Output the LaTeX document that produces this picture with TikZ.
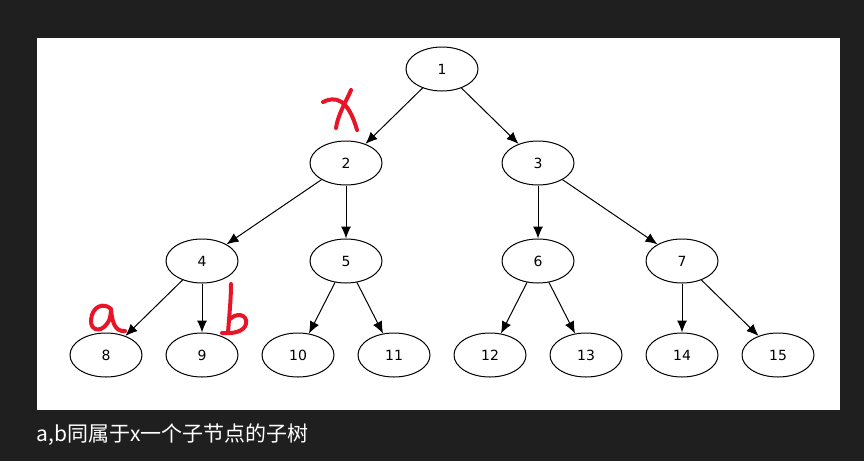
\documentclass[tikz,border=0pt]{standalone}
\usepackage{fontspec}
\setmainfont{DejaVu Sans}
\newfontfamily\cjk{Noto Sans CJK SC}
\usetikzlibrary{arrows.meta,shapes.geometric}
\definecolor{handred}{RGB}{232,20,40}
\begin{document}
\begin{tikzpicture}[x=1pt,y=-1pt,
  tn/.style={draw,ellipse,minimum width=72pt,minimum height=44pt,inner sep=0pt,font=\fontsize{14}{16}\selectfont,line width=1pt},
  ar/.style={-{Latex[length=12pt,width=10pt]},line width=1pt},
  hand/.style={handred,line width=4pt,line cap=round,line join=round}]
\fill[black!88] (0,0) rectangle (864,461);
\useasboundingbox (0,0) rectangle (864,461);
\fill[white] (37,38) rectangle (840,410);
\node[tn] (n1) at (442,69) {1};
\node[tn] (n2) at (346,163) {2};
\node[tn] (n3) at (538,163) {3};
\node[tn] (n4) at (202,261) {4};
\node[tn] (n5) at (346,261) {5};
\node[tn] (n6) at (538,261) {6};
\node[tn] (n7) at (682,261) {7};
\node[tn] (n8) at (106,355) {8};
\node[tn] (n9) at (202,355) {9};
\node[tn] (n10) at (298,355) {10};
\node[tn] (n11) at (394,355) {11};
\node[tn] (n12) at (490,355) {12};
\node[tn] (n13) at (586,355) {13};
\node[tn] (n14) at (682,355) {14};
\node[tn] (n15) at (778,355) {15};
\foreach \a/\b in {1/2,1/3,2/4,2/5,3/6,3/7,4/8,4/9,5/10,5/11,6/12,6/13,7/14,7/15}
  \draw[ar] (n\a) -- (n\b);
\draw[hand] (351,90) .. controls (346,102) and (338,114) .. (336,128);
\draw[hand] (323,102) .. controls (335,96) and (348,98) .. (357,130);
\draw[hand] (111,309) .. controls (104,302) and (92,306) .. (91,320)
  .. controls (90,332) and (104,334) .. (110,318) .. controls (111,312) and (111,310) .. (111,309)
  .. controls (112,320) and (114,332) .. (125,331);
\draw[hand] (231,284) .. controls (231,300) and (229,318) .. (228,333);
\draw[hand] (229,320) .. controls (236,312) and (248,314) .. (246,324)
  .. controls (244,332) and (232,334) .. (222,333);
\node[anchor=west,text=white,font=\cjk\fontsize{21}{24}\selectfont] (cap) at (33,435) {a,b同属于x一个子节点的子树};
\end{tikzpicture}
\end{document}
